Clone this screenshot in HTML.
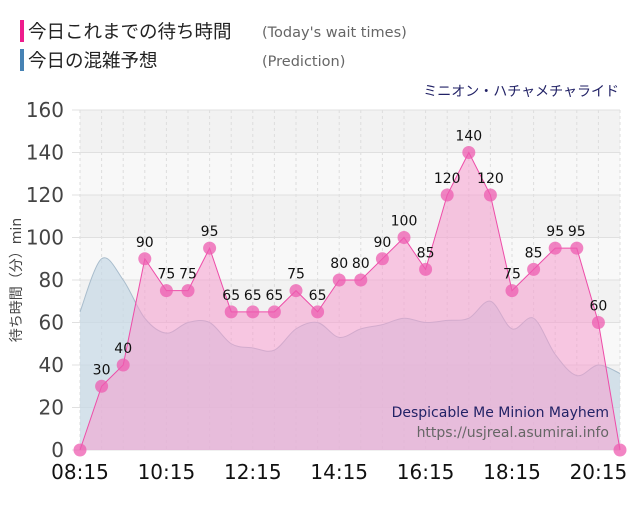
<!DOCTYPE html><html><head><meta charset="utf-8"><style>
body{margin:0;background:#fff;width:640px;height:500px;overflow:hidden}
svg text{font-family:"DejaVu Sans","Liberation Sans","Noto Sans CJK JP",sans-serif}
</style></head><body>
<svg id="s" width="640" height="500" xmlns="http://www.w3.org/2000/svg">
<rect x="20" y="20" width="4" height="22" fill="#ee1c8c"/>
<rect x="20" y="49" width="4" height="22" fill="#4682b4"/>
<text x="28" y="38" font-size="18.5" fill="#222" font-family="Noto Sans CJK JP,sans-serif">今日これまでの待ち時間</text>
<text x="28" y="67" font-size="18.5" fill="#222" font-family="Noto Sans CJK JP,sans-serif">今日の混雑予想</text>
<text x="262" y="37" font-size="14.5" fill="#666">(Today's wait times)</text>
<text x="262" y="66" font-size="14.5" fill="#666">(Prediction)</text>
<text x="619" y="96" font-size="14" fill="#222266" text-anchor="end" font-family="Noto Sans CJK JP,sans-serif">ミニオン・ハチャメチャライド</text>
<g id="g"></g>
<text x="609" y="417" font-size="14" fill="#222266" text-anchor="end">Despicable Me Minion Mayhem</text>
<text x="609" y="437" font-size="14" fill="#666" text-anchor="end">https://usjreal.asumirai.info</text>
<text transform="translate(21,280) rotate(-90)" font-size="14" fill="#444" text-anchor="middle" font-family="Noto Sans CJK JP,sans-serif">待ち時間（分）min</text>
</svg>
<script>
var g=document.getElementById('g'),h='';
var X0=80,X1=620,Y=v=>450-v*2.125;
for(var i=0;i<8;i++){h+='<rect x="80" y="'+Y(160-20*i)+'" width="540" height="42.5" fill="'+(i%2?'#f8f8f8':'#f2f2f2')+'"/>';}
for(var i=0;i<=25;i++){var x=X0+i*21.6;h+='<line x1="'+x+'" x2="'+x+'" y1="110" y2="450" stroke="#ddd" stroke-dasharray="3,3"/>';}
for(var v=0;v<=160;v+=20){h+='<line x1="72" x2="620" y1="'+Y(v)+'" y2="'+Y(v)+'" stroke="#e0e0e0"/>';h+='<text x="64" y="'+(Y(v)+7)+'" font-size="20" fill="#444" text-anchor="end">'+v+'</text>';}
var lb=['08:15','10:15','12:15','14:15','16:15','18:15','20:15'];
lb.forEach((t,i)=>{h+='<text x="'+(X0+i*86.4)+'" y="479" font-size="20" fill="#111" text-anchor="middle">'+t+'</text>';});
var p=[65,90,80,62,55,60,60,50,48,47,57,60,53,57,59,62,60,61,62,70,57,62,45,35,40,36];
var pts=p.map((v,i)=>[X0+i*21.6,Y(v)]);
var d='M'+pts[0][0]+','+pts[0][1];
for(var i=0;i<pts.length-1;i++){var p0=pts[Math.max(0,i-1)],p1=pts[i],p2=pts[i+1],p3=pts[Math.min(pts.length-1,i+2)];
d+=' C'+(p1[0]+(p2[0]-p0[0])/6)+','+(p1[1]+(p2[1]-p0[1])/6)+' '+(p2[0]-(p3[0]-p1[0])/6)+','+(p2[1]-(p3[1]-p1[1])/6)+' '+p2[0]+','+p2[1];}
h+='<path d="'+d+' L620,450 L80,450Z" fill="#c6d9e6" fill-opacity="0.7"/><path d="'+d+'" fill="none" stroke="#a8bccc"/>';
var w=[0,30,40,90,75,75,95,65,65,65,75,65,80,80,90,100,85,120,140,120,75,85,95,95,60,0];
var wd=w.map((v,i)=>(i?'L':'M')+(X0+i*21.6)+','+Y(v)).join(' ');
h+='<path d="'+wd+' L620,450 L80,450Z" fill="#f59ccd" fill-opacity="0.55"/><path d="'+wd+'" fill="none" stroke="#ee4ca8" stroke-width="1"/>';
w.forEach((v,i)=>{var x=X0+i*21.6;h+='<circle cx="'+x+'" cy="'+Y(v)+'" r="6.5" fill="#ee5cb0" fill-opacity="0.75"/>';
if(v>0)h+='<text x="'+x+'" y="'+(Y(v)-12)+'" font-size="14" fill="#111" text-anchor="middle">'+v+'</text>';});
g.innerHTML=h;
</script>
</body></html>
